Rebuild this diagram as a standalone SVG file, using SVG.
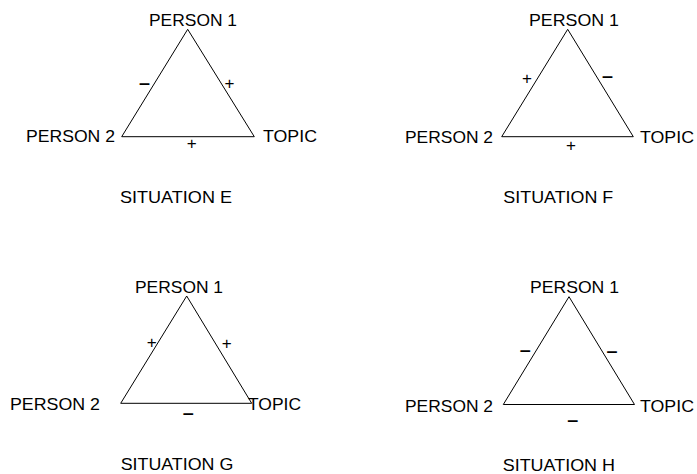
<svg xmlns="http://www.w3.org/2000/svg" width="697" height="474" viewBox="0 0 697 474">
<style>
text{font-family:"Liberation Sans",Arial,sans-serif;fill:#000}
.lbl{font-size:16.5px}
.sit{font-size:16.5px}
.plus{font-size:17px;text-anchor:middle}
.minus{font-size:18px;font-weight:bold;text-anchor:middle}
.edge{stroke:#000;stroke-width:1;fill:none}
</style>
<rect width="697" height="474" fill="#fff"/>

<g id="situation-e">
  <g id="e-person1"><text class="lbl" x="149" y="26" textLength="88" lengthAdjust="spacingAndGlyphs">PERSON 1</text></g>
  <g id="e-person2"><text class="lbl" x="26" y="142" textLength="89" lengthAdjust="spacingAndGlyphs">PERSON 2</text></g>
  <g id="e-topic"><text class="lbl" x="263" y="142" textLength="54" lengthAdjust="spacingAndGlyphs">TOPIC</text></g>
  <g id="e-connectors">
    <line class="edge" x1="187.7" y1="29.3" x2="121.7" y2="136.7"/>
    <line class="edge" x1="187.7" y1="29.3" x2="254.3" y2="136.7"/>
    <line class="edge" x1="121.7" y1="136.7" x2="254.3" y2="136.7"/>
    <text class="minus" x="144.6" y="88.5" textLength="11" lengthAdjust="spacingAndGlyphs">–</text>
    <text class="plus" x="229.5" y="88.8">+</text>
    <text class="plus" x="191.7" y="149.4">+</text>
  </g>
  <g id="e-caption"><text class="sit" x="120" y="203.3" textLength="112" lengthAdjust="spacingAndGlyphs">SITUATION E</text></g>
</g>

<g id="situation-f">
  <g id="f-person1"><text class="lbl" x="529" y="26" textLength="90" lengthAdjust="spacingAndGlyphs">PERSON 1</text></g>
  <g id="f-person2"><text class="lbl" x="405" y="142.5" textLength="88" lengthAdjust="spacingAndGlyphs">PERSON 2</text></g>
  <g id="f-topic"><text class="lbl" x="640" y="142.5" textLength="54" lengthAdjust="spacingAndGlyphs">TOPIC</text></g>
  <g id="f-connectors">
    <line class="edge" x1="567.7" y1="29.3" x2="501.7" y2="136.7"/>
    <line class="edge" x1="567.7" y1="29.3" x2="633.3" y2="136.7"/>
    <line class="edge" x1="501.7" y1="136.7" x2="633.3" y2="136.7"/>
    <text class="plus" x="527" y="84.1">+</text>
    <text class="minus" x="607.5" y="82.2" textLength="11" lengthAdjust="spacingAndGlyphs">–</text>
    <text class="plus" x="571" y="151.1">+</text>
  </g>
  <g id="f-caption"><text class="sit" x="503.3" y="203.3" textLength="110" lengthAdjust="spacingAndGlyphs">SITUATION F</text></g>
</g>

<g id="situation-g">
  <g id="g-person1"><text class="lbl" x="135" y="293.3" textLength="88" lengthAdjust="spacingAndGlyphs">PERSON 1</text></g>
  <g id="g-person2"><text class="lbl" x="10" y="410" textLength="90" lengthAdjust="spacingAndGlyphs">PERSON 2</text></g>
  <g id="g-topic"><text class="lbl" x="248" y="410" textLength="53" lengthAdjust="spacingAndGlyphs">TOPIC</text></g>
  <g id="g-connectors">
    <line class="edge" x1="186.7" y1="296" x2="120.7" y2="403.3"/>
    <line class="edge" x1="186.7" y1="296" x2="251.7" y2="403.3"/>
    <line class="edge" x1="120.7" y1="403.3" x2="251.7" y2="403.3"/>
    <text class="plus" x="151.7" y="347.8">+</text>
    <text class="plus" x="226.7" y="349.4">+</text>
    <text class="minus" x="188.3" y="418.5" textLength="11" lengthAdjust="spacingAndGlyphs">–</text>
  </g>
  <g id="g-caption"><text class="sit" x="120.7" y="470" textLength="112.6" lengthAdjust="spacingAndGlyphs">SITUATION G</text></g>
</g>

<g id="situation-h">
  <g id="h-person1"><text class="lbl" x="530" y="293.3" textLength="89" lengthAdjust="spacingAndGlyphs">PERSON 1</text></g>
  <g id="h-person2"><text class="lbl" x="405" y="411.5" textLength="88" lengthAdjust="spacingAndGlyphs">PERSON 2</text></g>
  <g id="h-topic"><text class="lbl" x="640" y="411.5" textLength="54" lengthAdjust="spacingAndGlyphs">TOPIC</text></g>
  <g id="h-connectors">
    <line class="edge" x1="569" y1="296.7" x2="503.3" y2="404.5"/>
    <line class="edge" x1="569" y1="296.7" x2="634.5" y2="404.5"/>
    <line class="edge" x1="503.3" y1="404.5" x2="634.5" y2="404.5"/>
    <text class="minus" x="525.3" y="356.2" textLength="11" lengthAdjust="spacingAndGlyphs">–</text>
    <text class="minus" x="612" y="356.9" textLength="11" lengthAdjust="spacingAndGlyphs">–</text>
    <text class="minus" x="572.8" y="425.9" textLength="11" lengthAdjust="spacingAndGlyphs">–</text>
  </g>
  <g id="h-caption"><text class="sit" x="502.7" y="470.5" textLength="112.3" lengthAdjust="spacingAndGlyphs">SITUATION H</text></g>
</g>
</svg>
